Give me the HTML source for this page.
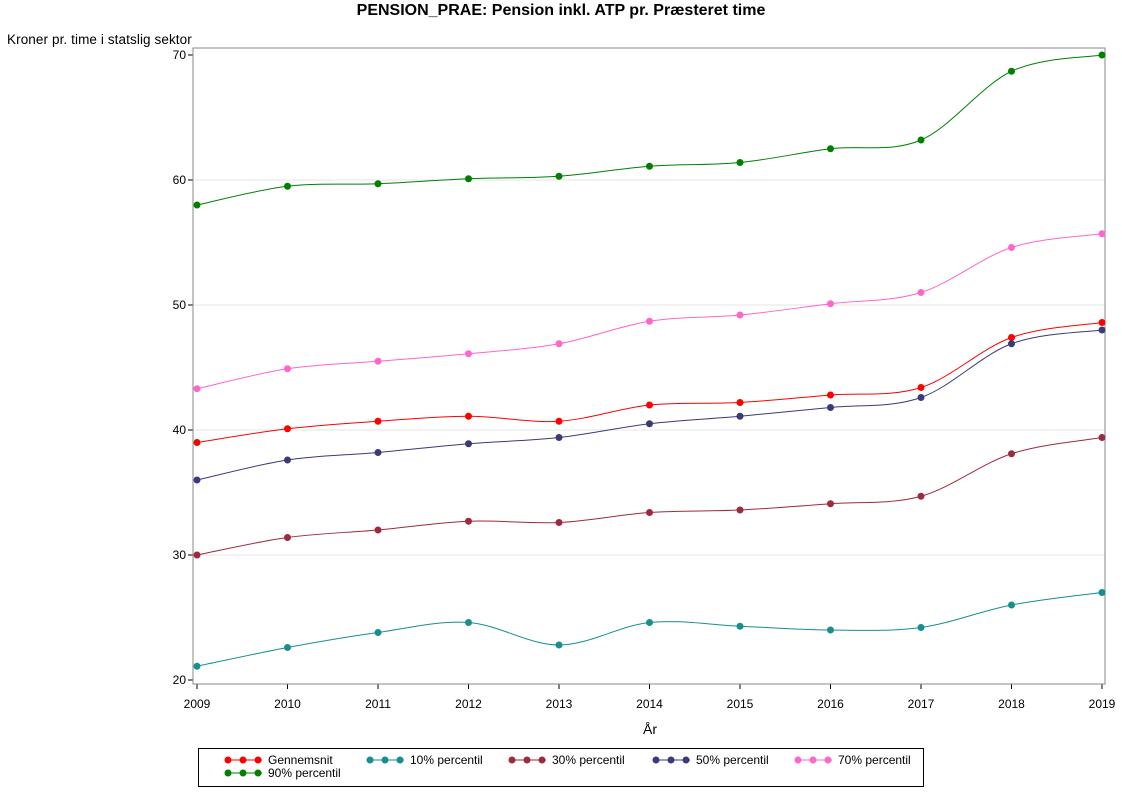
<!DOCTYPE html>
<html><head><meta charset="utf-8"><style>
body{margin:0;background:#fff;font-family:"Liberation Sans",sans-serif;}
</style></head><body>
<svg id="s" width="1122" height="793" xmlns="http://www.w3.org/2000/svg" font-family="Liberation Sans, sans-serif">
<rect width="1122" height="793" fill="#fff"/>
<text x="561" y="15" font-size="16" font-weight="bold" text-anchor="middle">PENSION_PRAE: Pension inkl. ATP pr. Præsteret time</text>
<text x="7" y="44" font-size="13.5" letter-spacing="0.1">Kroner pr. time i statslig sektor</text>
<g id="grid"></g>
<rect x="193" y="48" width="912" height="636" fill="none" stroke="#888" stroke-width="1"/>
<g id="series"></g>
<text x="650" y="734" font-size="14" text-anchor="middle">År</text>
<rect x="198.5" y="748.5" width="725" height="38" fill="#fff" stroke="#000"/>
<g id="leg" font-size="12"></g>
</svg>
<script>
const NS="http://www.w3.org/2000/svg";
function el(t,a,p){const e=document.createElementNS(NS,t);for(const k in a)e.setAttribute(k,a[k]);p.appendChild(e);return e;}
const X=y=>197+(y-2009)*90.5, Y=v=>55+(70-v)*12.5;
const g=document.getElementById('grid');
for(let v=20;v<=70;v+=10){const y=Y(v);
 if(v>20&&v<70)el('line',{x1:193,x2:1105,y1:y,y2:y,stroke:'#e4e4e4'},g);
 el('line',{x1:188,x2:193,y1:y,y2:y,stroke:'#000'},g);
 const t=el('text',{x:186,y:y+4,'font-size':12,'text-anchor':'end'},g);t.textContent=v;}
for(let yr=2009;yr<=2019;yr++){const x=X(yr);
 el('line',{x1:x,x2:x,y1:684,y2:689,stroke:'#000'},g);
 const t=el('text',{x:x,y:708,'font-size':12,'text-anchor':'middle'},g);t.textContent=yr;}
const S=[
["Gennemsnit","#ff0000",[39.0,40.1,40.7,41.1,40.7,42.0,42.2,42.8,43.4,47.4,48.6]],
["10% percentil","#178f8f",[21.1,22.6,23.8,24.6,22.8,24.6,24.3,24.0,24.2,26.0,27.0]],
["30% percentil","#9e2a3e",[30.0,31.4,32.0,32.7,32.6,33.4,33.6,34.1,34.7,38.1,39.4]],
["50% percentil","#3a3a78",[36.0,37.6,38.2,38.9,39.4,40.5,41.1,41.8,42.6,46.9,48.0]],
["70% percentil","#ff66cc",[43.3,44.9,45.5,46.1,46.9,48.7,49.2,50.1,51.0,54.6,55.7]],
["90% percentil","#008000",[58.0,59.5,59.7,60.1,60.3,61.1,61.4,62.5,63.2,68.7,70.0]]];
const sg=document.getElementById('series'),lg=document.getElementById('leg');
S.forEach((s,i)=>{
 const p=s[2].map((v,k)=>[X(2009+k),Y(v)]);
 let d=`M${p[0][0]},${p[0][1]}`;
 for(let k=0;k<p.length-1;k++){const a=p[Math.max(k-1,0)],b=p[k],c=p[k+1],e=p[Math.min(k+2,p.length-1)];
  d+=` C${b[0]+(c[0]-a[0])/6},${b[1]+(c[1]-a[1])/6} ${c[0]-(e[0]-b[0])/6},${c[1]-(e[1]-b[1])/6} ${c[0]},${c[1]}`;}
 el('path',{d:d,fill:'none',stroke:s[1],'stroke-width':1},sg);
 p.forEach(q=>el('circle',{cx:q[0],cy:q[1],r:3.5,fill:s[1]},sg));
 const lx=[228,370,512,656,798,228][i], ly=i<5?760:773;
 el('line',{x1:lx-3,x2:lx+34,y1:ly,y2:ly,stroke:s[1]},lg);
 [lx,lx+15,lx+30].forEach(c=>el('circle',{cx:c,cy:ly,r:3.5,fill:s[1]},lg));
 const t=el('text',{x:lx+40,y:ly+4},lg);t.textContent=s[0];
});
</script>
</body></html>
